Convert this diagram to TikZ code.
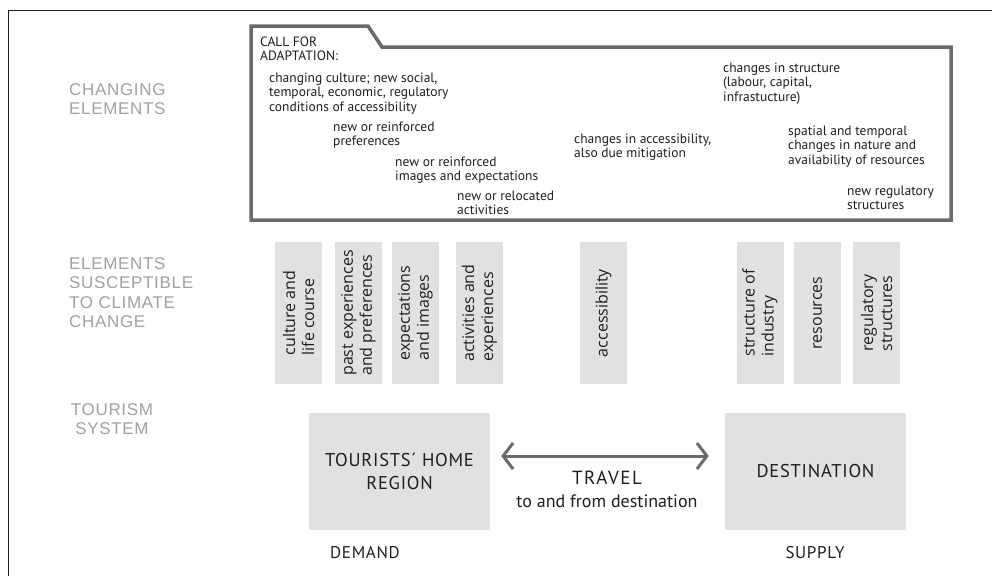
\documentclass[tikz,border=0pt]{standalone}
\usepackage{fontspec}
\setmainfont{PT Sans}
\newfontfamily\boxfont{Open Sans}
\newfontfamily\rowfont[LetterSpace=4]{Liberation Sans}
\newfontfamily\sysfont[LetterSpace=4]{PT Sans}
\newfontfamily\travelfont[LetterSpace=8]{PT Sans}
\usetikzlibrary{arrows.meta}
\definecolor{boxgrey}{HTML}{E1E1E3}
\definecolor{framegrey}{HTML}{6A6A6A}
\definecolor{rowgrey}{HTML}{A0A0A6}
\definecolor{textblack}{HTML}{1E1E1E}
\begin{document}
\begin{tikzpicture}[x=1pt, y=-1pt]
\useasboundingbox (0,0) rectangle (992,576);
\draw[line width=1pt, textblack] (8,576) -- (8,10) -- (992,10);
\draw[line width=3.5pt, framegrey] (251,220) -- (251,26) -- (368,26) -- (382,47) -- (951,47) -- (951,220) -- cycle;
% row labels (base = last line)
\begin{scope}[every node/.style = {anchor=base west, inner sep=0, align=left, text=rowgrey, font=\rowfont\fontsize{17}{19.5}\selectfont}]
\node (changing) at (69,114.5) {CHANGING\\ELEMENTS};
\node (susceptible) at (69,327.5) {ELEMENTS\\SUSCEPTIBLE\\TO CLIMATE\\CHANGE};
\node[anchor=base, align=center] (tourism) at (112,434.5) {TOURISM\\SYSTEM};
\end{scope}
% call for adaptation
\begin{scope}[every node/.style = {anchor=base west, inner sep=0, align=left, text=textblack, font=\fontsize{13.5}{14.5}\selectfont}]
\node (callfor) at (260,60.5) {CALL FOR\\ADAPTATION:};
\node (culturechg) at (269,111) {changing culture; new social,\\temporal, economic, regulatory\\conditions of accessibility};
\node (prefchg) at (333,145.5) {new or reinforced\\preferences};
\node (imagechg) at (395,180.5) {new or reinforced\\images and expectations};
\node (activitychg) at (457,214.5) {new or relocated\\activities};
\node (accesschg) at (574,157.5) {changes in accessibility,\\also due mitigation};
\node (structurechg) at (723,101) {changes in structure\\(labour, capital,\\infrastucture)};
\node (resourcechg) at (788,164) {spatial and temporal\\changes in nature and\\availability of resources};
\node (regulationchg) at (847,209.5) {new regulatory\\structures};
\end{scope}
% elements susceptible
\begin{scope}[every node/.style = {fill=boxgrey, rotate=90, minimum width=142pt, minimum height=47pt, inner sep=0, align=left, text=textblack, font=\boxfont\fontsize{16}{19}\selectfont}]
\node (culture) at (298.5,313) {culture and\\life course};
\node (past) at (358.5,313) {past experiences\\and preferences};
\node (expect) at (415.5,313) {expectations\\and images};
\node (activity) at (479.5,313) {activities and\\experiences};
\node (access) at (603.5,313) {accessibility};
\node (industry) at (760,313) {structure of\\industry};
\node (resource) at (817.5,313) {resources};
\node (regulation) at (876.5,313) {regulatory\\structures};
\end{scope}
% tourism system
\begin{scope}[every node/.style = {text=textblack, font=\sysfont\fontsize{17}{23}\selectfont}]
\node[fill=boxgrey, minimum width=181pt, minimum height=117pt, align=center, font=\sysfont\fontsize{18.5}{23}\selectfont] (home) at (399.5,471.5) {TOURISTS´ HOME\\REGION};
\node[fill=boxgrey, minimum width=181pt, minimum height=117pt, font=\sysfont\fontsize{18.5}{23}\selectfont] (dest) at (815.5,471.5) {DESTINATION};
\node[font=\travelfont\fontsize{19}{22}\selectfont] (travel) at (607,478) {TRAVEL};
\node[font=\fontsize{18}{21}\selectfont] (travelsub) at (607,501) {to and from destination};
\node (demand) at (365,553) {DEMAND};
\node (supply) at (815,553) {SUPPLY};
\end{scope}
\draw[framegrey, line width=3pt, line cap=round, {Straight Barb[length=10pt,width=26pt]}-{Straight Barb[length=10pt,width=26pt]}, shorten <=11pt, shorten >=16pt] ([yshift=15.5pt]home.east) -- ([yshift=15.5pt]dest.west);
\end{tikzpicture}
\end{document}
